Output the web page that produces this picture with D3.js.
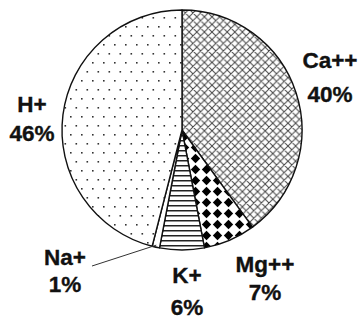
<!DOCTYPE html>
<html>
<head>
<meta charset="utf-8">
<script src="https://cdn.jsdelivr.net/npm/d3@7"></script>
<style>
  html, body { margin: 0; padding: 0; background: #fff; }
  svg { display: block; }
  text { font-family: "Liberation Sans", Arial, sans-serif; font-weight: bold; fill: #111; stroke: #111; stroke-width: 0.35px; }
</style>
</head>
<body>
<svg id="chart" width="361" height="319"></svg>
<script>
// ---- data ----
const categories = ["Ca++", "Mg++", "K+", "Na+", "H+"];
const values = [40, 7, 6, 1, 46];
const percentLabels = ["40%", "7%", "6%", "1%", "46%"];
const patterns = ["cross", "diamond", "hlines", "none", "dots"];

// ---- layout (label anchor centres, line 1 / line 2 baselines) ----
const labelLayout = {
  "Ca++": { x: 330, y1: 68, y2: 102 },
  "Mg++": { x: 265, y1: 272, y2: 300 },
  "K+":   { x: 187, y1: 283, y2: 315 },
  "Na+":  { x: 65,  y1: 265, y2: 292 },
  "H+":   { x: 32,  y1: 112, y2: 141 }
};

const svg = d3.select("#chart");
const cx = 182, cy = 130, r = 120;

const defs = svg.append("defs");
// cross-hatch
const T = 7.6;
const pc = defs.append("pattern").attr("id", "cross").attr("patternUnits", "userSpaceOnUse")
  .attr("width", T).attr("height", T).attr("x", cx).attr("y", cy);
pc.append("rect").attr("width", T).attr("height", T).attr("fill", "#fff");
pc.append("path").attr("d", `M0,0L${T},${T}M0,${T}L${T},0M-1,1L1,-1M${T-1},${T+1}L${T+1},${T-1}M-1,${T-1}L1,${T+1}M${T-1},-1L${T+1},1`)
  .attr("stroke", "#444").attr("stroke-width", 1);
// solid diamonds
const pd = defs.append("pattern").attr("id", "diamond").attr("patternUnits", "userSpaceOnUse")
  .attr("width", 11).attr("height", 11).attr("x", cx + 2).attr("y", cy + 3);
pd.append("rect").attr("width", 11).attr("height", 11).attr("fill", "#fff");
pd.append("path").attr("d", "M5.5,0.8L10.2,5.5L5.5,10.2L0.8,5.5Z").attr("fill", "#000");
// horizontal lines
const ph = defs.append("pattern").attr("id", "hlines").attr("patternUnits", "userSpaceOnUse")
  .attr("width", 10).attr("height", 5).attr("x", 0).attr("y", cy);
ph.append("rect").attr("width", 10).attr("height", 5).attr("fill", "#fff");
ph.append("rect").attr("y", 0).attr("width", 10).attr("height", 1.5).attr("fill", "#222");
// dots
const pdots = defs.append("pattern").attr("id", "dots").attr("patternUnits", "userSpaceOnUse")
  .attr("width", 11).attr("height", 18).attr("x", cx - 8).attr("y", cy);
pdots.append("rect").attr("width", 11).attr("height", 18).attr("fill", "#fff");
pdots.append("rect").attr("x", 0).attr("y", 0).attr("width", 1.6).attr("height", 1.6).attr("fill", "#333");
pdots.append("rect").attr("x", 5.5).attr("y", 9).attr("width", 1.6).attr("height", 1.6).attr("fill", "#333");

const data = categories.map((c, i) => ({ cat: c, value: values[i], pct: percentLabels[i], pat: patterns[i] }));

const pie = d3.pie().sort(null).value(d => d.value).startAngle(0).endAngle(2 * Math.PI);
const arc = d3.arc().innerRadius(0).outerRadius(r);
const arcs = pie(data);

const g = svg.append("g").attr("transform", `translate(${cx},${cy})`);
g.selectAll("path.slice").data(arcs).join("path")
  .attr("class", "slice")
  .attr("d", arc)
  .attr("fill", d => d.data.pat === "none" ? "#fff" : `url(#${d.data.pat})`)
  .attr("stroke", "#111")
  .attr("stroke-width", 1.4)
  .attr("stroke-linejoin", "round");

// leader line for Na+
const na = arcs.find(d => d.data.cat === "Na+");
const naMid = (na.startAngle + na.endAngle) / 2;
const naOuter = [cx + Math.sin(naMid) * (r - 2), cy - Math.cos(naMid) * (r - 2)];
svg.append("line")
  .attr("x1", naOuter[0]).attr("y1", naOuter[1])
  .attr("x2", 92).attr("y2", 266)
  .attr("stroke", "#333").attr("stroke-width", 1);

// labels
const lbl = svg.append("g");
data.forEach(d => {
  const p = labelLayout[d.cat];
  lbl.append("text").attr("x", p.x).attr("y", p.y1).attr("text-anchor", "middle")
    .attr("font-size", 22.5).text(d.cat);
  lbl.append("text").attr("x", p.x).attr("y", p.y2).attr("text-anchor", "middle")
    .attr("font-size", 22.5).text(d.pct);
});
</script>
</body>
</html>
